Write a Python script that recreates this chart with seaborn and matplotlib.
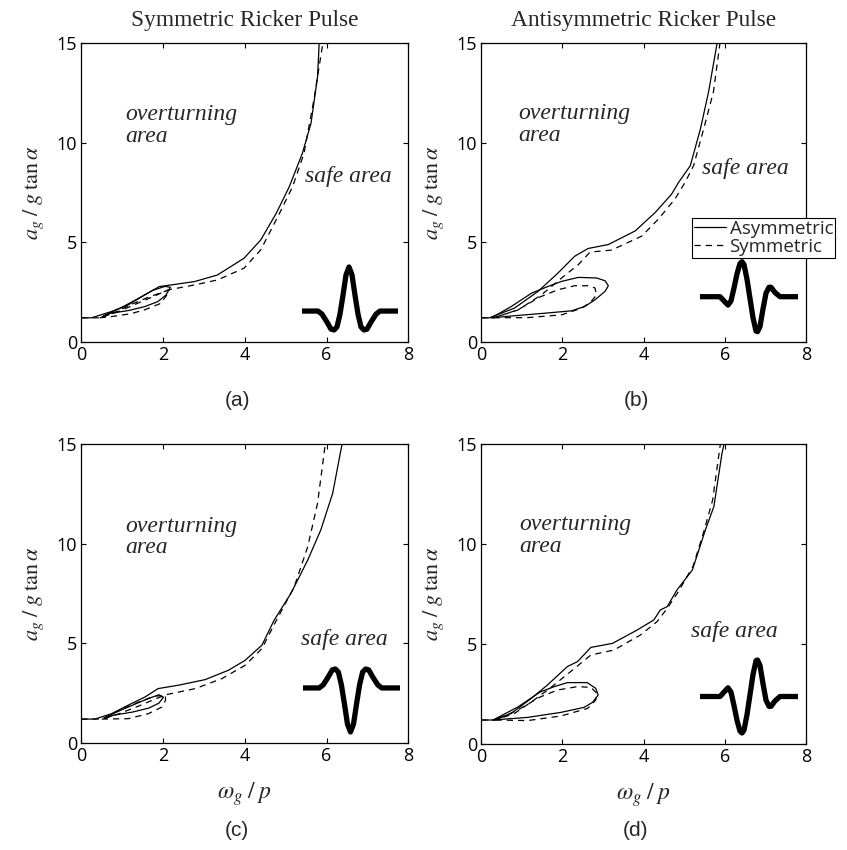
import numpy as np
import pandas as pd
import seaborn as sns
import matplotlib.pyplot as plt

# ---- (a) symmetric pulse, asymmetric / symmetric block ----
a_asym_x = [0, 0.25, 0.73, 1.14, 1.55, 1.91, 2.2, 2.77, 3.33, 3.98, 4.39, 4.77, 5.09, 5.41, 5.62, 5.78, 5.82]
a_asym_y = [1.2, 1.2, 1.51, 1.84, 2.35, 2.77, 2.85, 3.02, 3.35, 4.19, 5.11, 6.45, 7.79, 9.47, 10.97, 13.3, 15]
a_asym_loop_x = [0.55, 0.69, 1.14, 1.55, 1.87, 2.07, 2.18, 2.05, 1.75, 1.35, 0.95, 0.55]
a_asym_loop_y = [1.3, 1.42, 1.56, 1.76, 2.01, 2.34, 2.73, 2.78, 2.58, 2.12, 1.68, 1.3]
a_sym_x = [0, 0.45, 0.9, 1.4, 1.8, 2.12, 2.77, 3.33, 3.98, 4.39, 4.85, 5.17, 5.45, 5.69, 5.91]
a_sym_y = [1.2, 1.2, 1.5, 1.95, 2.3, 2.6, 2.85, 3.1, 3.69, 4.61, 6.45, 7.79, 9.47, 12.15, 15]
a_sym_loop_x = [0.45, 0.73, 1.2, 1.55, 1.95, 2.12, 2.15, 2.0, 1.6, 1.2, 0.8, 0.45]
a_sym_loop_y = [1.2, 1.26, 1.4, 1.6, 1.93, 2.43, 2.6, 2.5, 2.2, 1.85, 1.45, 1.2]

# ---- (b) antisymmetric pulse ----
b_asym_x = [0, 0.2, 0.82, 1.4, 1.89, 2.3, 2.63, 3.13, 3.79, 4.28, 4.69, 4.86, 5.15, 5.4, 5.6, 5.81]
b_asym_y = [1.2, 1.2, 1.69, 2.53, 3.45, 4.29, 4.68, 4.88, 5.56, 6.48, 7.41, 8.0, 8.84, 10.69, 12.55, 15]
b_asym_loop_x = [0.25, 0.74, 1.56, 2.22, 2.55, 2.8, 3.05, 3.13, 3.05, 2.84, 2.39, 1.98, 1.65, 1.24, 0.74, 0.25]
b_asym_loop_y = [1.2, 1.29, 1.43, 1.55, 1.77, 2.1, 2.53, 2.81, 3.06, 3.2, 3.23, 3.03, 2.78, 2.44, 1.77, 1.2]
b_sym_x = [0, 0.3, 0.9, 1.48, 1.98, 2.39, 2.68, 3.21, 3.95, 4.36, 4.77, 5.02, 5.23, 5.48, 5.72, 5.88]
b_sym_y = [1.2, 1.2, 1.59, 2.35, 3.2, 3.87, 4.5, 4.6, 5.3, 6.15, 7.16, 8.0, 8.84, 10.69, 12.55, 15]
b_sym_loop_x = [0.3, 1.15, 1.98, 2.47, 2.7, 2.84, 2.8, 2.63, 2.3, 1.89, 1.45, 0.9, 0.3]
b_sym_loop_y = [1.2, 1.21, 1.35, 1.68, 2.0, 2.35, 2.7, 2.81, 2.81, 2.61, 2.25, 1.6, 1.2]

# ---- (c) symmetric pulse (inverted) ----
c_asym_x = [0, 0.33, 0.74, 1.15, 1.56, 1.88, 2.38, 3.03, 3.6, 4.01, 4.42, 4.72, 5.13, 5.54, 5.86, 6.15, 6.36, 6.38]
c_asym_y = [1.2, 1.2, 1.47, 1.9, 2.31, 2.73, 2.9, 3.18, 3.65, 4.15, 4.91, 6.17, 7.51, 9.18, 10.69, 12.53, 14.79, 15]
c_asym_loop_x = [0.6, 0.8, 1.25, 1.65, 1.9, 2.01, 1.9, 1.6, 1.2, 0.8, 0.6]
c_asym_loop_y = [1.25, 1.4, 1.55, 1.75, 2.0, 2.3, 2.42, 2.2, 1.85, 1.5, 1.25]
c_sym_x = [0, 0.45, 0.9, 1.4, 1.8, 2.09, 2.79, 3.44, 4.01, 4.42, 4.72, 5.21, 5.54, 5.78, 5.95, 5.97]
c_sym_y = [1.2, 1.2, 1.45, 1.85, 2.2, 2.43, 2.73, 3.23, 3.9, 4.74, 5.95, 7.84, 9.85, 12.03, 14.7, 15]
c_sym_loop_x = [0.5, 1.15, 1.64, 1.97, 2.06, 2.06, 1.8, 1.4, 1.0, 0.5]
c_sym_loop_y = [1.2, 1.22, 1.47, 1.8, 2.14, 2.39, 2.35, 2.05, 1.7, 1.2]

# ---- (d) antisymmetric pulse (inverted) ----
d_asym_x = [0, 0.29, 0.74, 1.23, 1.63, 2.12, 2.37, 2.7, 3.23, 3.84, 4.25, 4.41, 4.58, 4.82, 5.2, 5.28, 5.52, 5.73, 5.93, 5.98]
d_asym_y = [1.2, 1.2, 1.53, 2.28, 2.95, 3.87, 4.12, 4.83, 5.03, 5.7, 6.2, 6.7, 6.87, 7.7, 8.7, 9.2, 10.7, 11.87, 14.53, 15]
d_asym_loop_x = [0.29, 1.14, 1.96, 2.53, 2.74, 2.88, 2.82, 2.61, 2.12, 1.8, 1.45, 0.9, 0.29]
d_asym_loop_y = [1.2, 1.33, 1.58, 1.83, 2.08, 2.45, 2.78, 3.07, 3.07, 2.87, 2.6, 1.85, 1.2]
d_sym_x = [0, 0.35, 0.82, 1.3, 1.7, 2.2, 2.7, 3.27, 3.92, 4.33, 4.58, 4.85, 5.22, 5.48, 5.7, 5.89]
d_sym_y = [1.2, 1.2, 1.53, 2.2, 2.8, 3.62, 4.45, 4.7, 5.45, 6.12, 6.78, 7.6, 8.9, 10.6, 12.2, 15]
d_sym_loop_x = [0.35, 1.14, 1.96, 2.62, 2.82, 2.85, 2.7, 2.37, 1.88, 1.45, 0.9, 0.35]
d_sym_loop_y = [1.2, 1.17, 1.4, 1.78, 2.2, 2.53, 2.83, 2.87, 2.7, 2.35, 1.7, 1.2]

# pulse glyphs
sym_pulse_t = [0, 16, 20, 25, 29, 32, 35, 38, 41, 44, 47, 50, 53, 56, 59, 62, 65, 69, 74, 78, 96]
sym_pulse_v = [0, 0, -0.07, -0.25, -0.41, -0.43, -0.36, -0.07, 0.36, 0.82, 1, 0.82, 0.36, -0.07,
               -0.36, -0.43, -0.41, -0.25, -0.07, 0, 0]
anti_pulse_t = [0, 20, 24, 28, 31, 34, 37, 40, 42, 44, 47, 50, 53, 56, 57.5, 60, 63, 66, 69, 71, 75, 80, 98]
anti_pulse_v = [0, 0, -0.12, -0.24, -0.12, 0.25, 0.65, 0.95, 1.0, 0.92, 0.5, -0.05, -0.6, -0.98, -1.0,
                -0.85, -0.35, 0.1, 0.27, 0.27, 0.12, 0, 0]

titles = ['Symmetric Ricker Pulse', 'Antisymmetric Ricker Pulse']
panel_labels = ['(a)', '(b)', '(c)', '(d)']
x_ticks = [0, 2, 4, 6, 8]
y_ticks = [0, 5, 10, 15]


def make_df(asym, asym_loop, sym, sym_loop):
    parts = []
    for name, seg, (xs, ys) in [('Asymmetric', 0, asym), ('Asymmetric', 1, asym_loop),
                                ('Symmetric', 2, sym), ('Symmetric', 3, sym_loop)]:
        parts.append(pd.DataFrame({'x': xs, 'y': ys, 'kind': name, 'seg': seg}))
    return pd.concat(parts, ignore_index=True)


panels = [
    make_df((a_asym_x, a_asym_y), (a_asym_loop_x, a_asym_loop_y), (a_sym_x, a_sym_y), (a_sym_loop_x, a_sym_loop_y)),
    make_df((b_asym_x, b_asym_y), (b_asym_loop_x, b_asym_loop_y), (b_sym_x, b_sym_y), (b_sym_loop_x, b_sym_loop_y)),
    make_df((c_asym_x, c_asym_y), (c_asym_loop_x, c_asym_loop_y), (c_sym_x, c_sym_y), (c_sym_loop_x, c_sym_loop_y)),
    make_df((d_asym_x, d_asym_y), (d_asym_loop_x, d_asym_loop_y), (d_sym_x, d_sym_y), (d_sym_loop_x, d_sym_loop_y)),
]

sns.set_theme(style='ticks', rc={
    'xtick.direction': 'in', 'ytick.direction': 'in',
    'xtick.top': True, 'ytick.right': True,
    'xtick.major.size': 3.5, 'ytick.major.size': 3.5,
    'axes.linewidth': 0.9, 'axes.edgecolor': 'black',
    'xtick.color': 'black', 'ytick.color': 'black',
})
plt.rcParams['font.family'] = ['Open Sans', 'DejaVu Sans']
plt.rcParams['mathtext.fontset'] = 'stix'

fig = plt.figure(figsize=(8.47, 8.5), dpi=100)
W, H = 847.0, 850.0
# axes boxes in pixels: left, top, right, bottom
boxes = [(81.3, 43, 408.3, 341.7), (481.3, 43, 806, 341.7),
         (81.3, 444, 408.3, 743), (481.3, 444, 806, 744)]
text_pos = [((1.07, 11.14, 10.05), (5.48, 8.0)),
            ((0.91, 11.2, 10.1), (5.44, 8.4)),
            ((1.07, 10.6, 9.52), (5.37, 4.92)),
            ((0.93, 10.7, 9.6), (5.17, 5.37))]
label_pos = [(237, 401), (636, 401), (237, 830), (636, 830)]
glyph_boxes = [(302, 267, 398, 330), (700, 261.7, 798, 331.7),
               (303, 669, 400, 732), (700, 660, 798, 733)]
glyph_data = [(sym_pulse_t, sym_pulse_v), (anti_pulse_t, anti_pulse_v),
              (sym_pulse_t, [-v for v in sym_pulse_v]), (anti_pulse_t, [-v for v in anti_pulse_v])]

serif = 'Liberation Serif'
for i, df in enumerate(panels):
    l, t, r, b = boxes[i]
    ax = fig.add_axes([l / W, 1 - b / H, (r - l) / W, (b - t) / H])
    sns.lineplot(data=df, x='x', y='y', units='seg', style='kind', estimator=None, sort=False,
                 color='black', linewidth=0.9, dashes={'Asymmetric': '', 'Symmetric': (5, 4)},
                 ax=ax, legend=(i == 1))
    ax.set_xlim(0, 8)
    ax.set_ylim(0, 15)
    ax.set_xticks(x_ticks)
    ax.set_yticks(y_ticks)
    ax.tick_params(labelsize=13, pad=3, width=0.8)
    ax.set_xlabel(r'$\omega_g\;/\;p$' if i >= 2 else '', fontsize=17, labelpad=11)
    ax.set_ylabel(r'$a_g\;/\;g\;\tan\alpha$', fontsize=16, labelpad=8)
    if i < 2:
        ax.set_title(titles[i], fontfamily=serif, fontsize=16.8, pad=12)
    (ox, oy1, oy2), (sx, sy) = text_pos[i]
    ax.text(ox, oy1, 'overturning', fontfamily=serif, style='italic', fontsize=17, va='baseline')
    ax.text(ox, oy2, 'area', fontfamily=serif, style='italic', fontsize=17, va='baseline')
    ax.text(sx, sy, 'safe area', fontfamily=serif, style='italic', fontsize=17, va='baseline')
    fig.text(label_pos[i][0] / W, 1 - label_pos[i][1] / H, panel_labels[i],
             fontfamily='Liberation Sans', fontsize=15, ha='center', va='center')

    if i == 1:
        handles, labels = ax.get_legend_handles_labels()
        leg = ax.legend(handles, labels, loc='upper left', bbox_to_anchor=(692 / W, 1 - 218 / H),
                        bbox_transform=fig.transFigure, frameon=True, fancybox=False,
                        framealpha=1, edgecolor='black', fontsize=13.5, borderpad=0.1,
                        handlelength=1.7, handletextpad=0.2, labelspacing=0.0,
                        borderaxespad=0)
        leg.get_frame().set_linewidth(0.8)

    gl, gt, gr, gb = glyph_boxes[i]
    gax = fig.add_axes([gl / W, 1 - gb / H, (gr - gl) / W, (gb - gt) / H])
    gt_vals, gv_vals = glyph_data[i]
    sns.lineplot(x=gt_vals, y=gv_vals, sort=False, estimator=None, color='black',
                 linewidth=3.8, ax=gax, solid_joinstyle='round', solid_capstyle='butt')
    for ln in gax.lines:
        ln.set_clip_on(False)
    gax.set_xlim(0, max(gt_vals))
    gax.set_ylim(min(gv_vals), max(gv_vals))
    gax.axis('off')
    gax.patch.set_alpha(0)

fig.savefig('out.png', dpi=100)
